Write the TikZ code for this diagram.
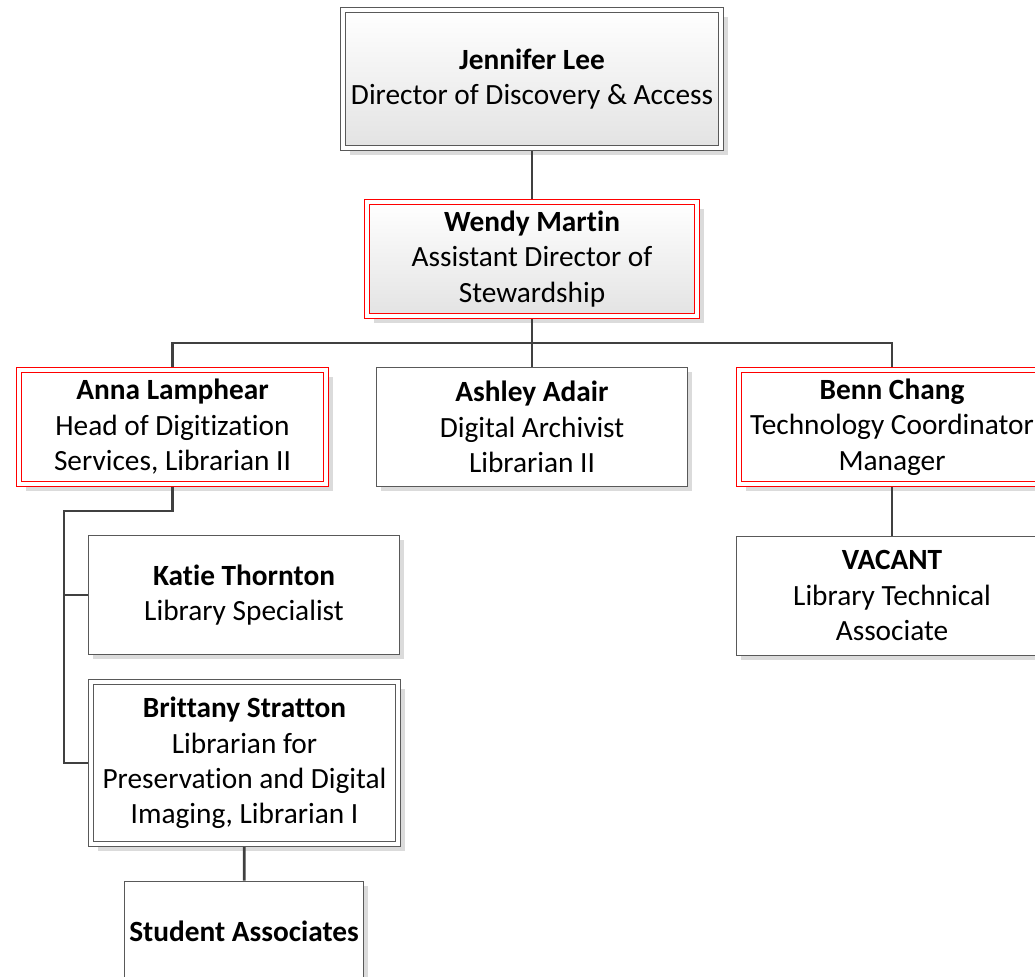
\documentclass[tikz,border=0pt]{standalone}
\usepackage{fontspec}
\setmainfont{Carlito}[Ligatures = NoCommon]
\usepackage{tikz}
\usetikzlibrary{shadows}
\tikzset{
  every picture/.style = {
    x = 0.75pt,
    y = -0.75pt,
  }
  ,
  link/.style = {
    draw = black!75,
    line width = 2.1pt
  }
  , % common look of the boxes
  box/.style = {
    rectangle,
    draw = black!65,
    line width = 0.75pt,
    fill = white,
    align = center,
    inner sep = 0pt,
    font = \fontsize{22}{26.6}\selectfont,
    minimum width = 233pt,
    minimum height = 89.25pt
  }
  , % plain boxes
  staff/.style = {
    box,
    drop shadow = {shadow xshift = 3.5pt, shadow yshift = -3.5pt, fill = black!14, opacity = 1}
  }
  , % double framed boxes
  framed/.style = {
    box,
    double,
    double distance = 3pt,
    outer sep = 2.25pt,
    minimum width = 230.25pt,
    minimum height = 85.5pt,
    drop shadow = {shadow xshift = 5.5pt, shadow yshift = -5.5pt, fill = black!14, opacity = 1}
  }
  ,
  lead/.style = {
    framed,
    draw = red
  }
  ,
  graded/.style = {
    top color = white,
    bottom color = black!11
  }
}

\begin{document}
\begin{tikzpicture}
  \useasboundingbox (0,0) rectangle (1035,976);
  \clip (0,0) rectangle (1035,976);
  \node [framed, graded, minimum width = 283.5pt, minimum height = 103.5pt] (jen) at (532,79)
    {\textbf{Jennifer Lee}\\Director of Discovery \& Access};
  \node [lead, graded, minimum width = 247.5pt] (wendy) at (532,259)
    {\textbf{Wendy Martin}\\Assistant Director of\\Stewardship};
  \node [lead] (anna) at (172.5,427)
    {\textbf{Anna Lamphear}\\Head of Digitization\\Services, Librarian II};
  \node [staff] (ashley) at (532,427)
    {\textbf{Ashley Adair}\\Digital Archivist\\Librarian II};
  \node [lead] (benn) at (892,427)
    {\textbf{Benn Chang}\\Technology Coordinator\\Manager};
  \node [staff] (katie) at (244,595)
    {\textbf{Katie Thornton}\\Library Specialist};
  \node [staff] (vacant) at (892,595.5)
    {\textbf{VACANT}\\Library Technical\\Associate};
  \node [framed, minimum height = 121.5pt] (brittany) at (244.5,763)
    {\textbf{Brittany Stratton}\\Librarian for\\Preservation and Digital\\Imaging, Librarian I};
  \node [staff, minimum width = 179.25pt, minimum height = 75pt] (student) at (244,931)
    {\textbf{Student Associates}};

  \coordinate (bus) at (532,343);
  \coordinate (spine) at (64,511);
  \draw [link] (jen) -- (wendy);
  \draw [link] (wendy) -- (bus) -- (ashley);
  \draw [link] (bus) -| (anna);
  \draw [link] (bus) -| (benn);
  \draw [link] (benn) -- (vacant);
  \draw [link] (anna) |- (spine) |- (brittany);
  \draw [link] (spine) |- (katie);
  \draw [link] (brittany) -- (student);
\end{tikzpicture}
\end{document}
